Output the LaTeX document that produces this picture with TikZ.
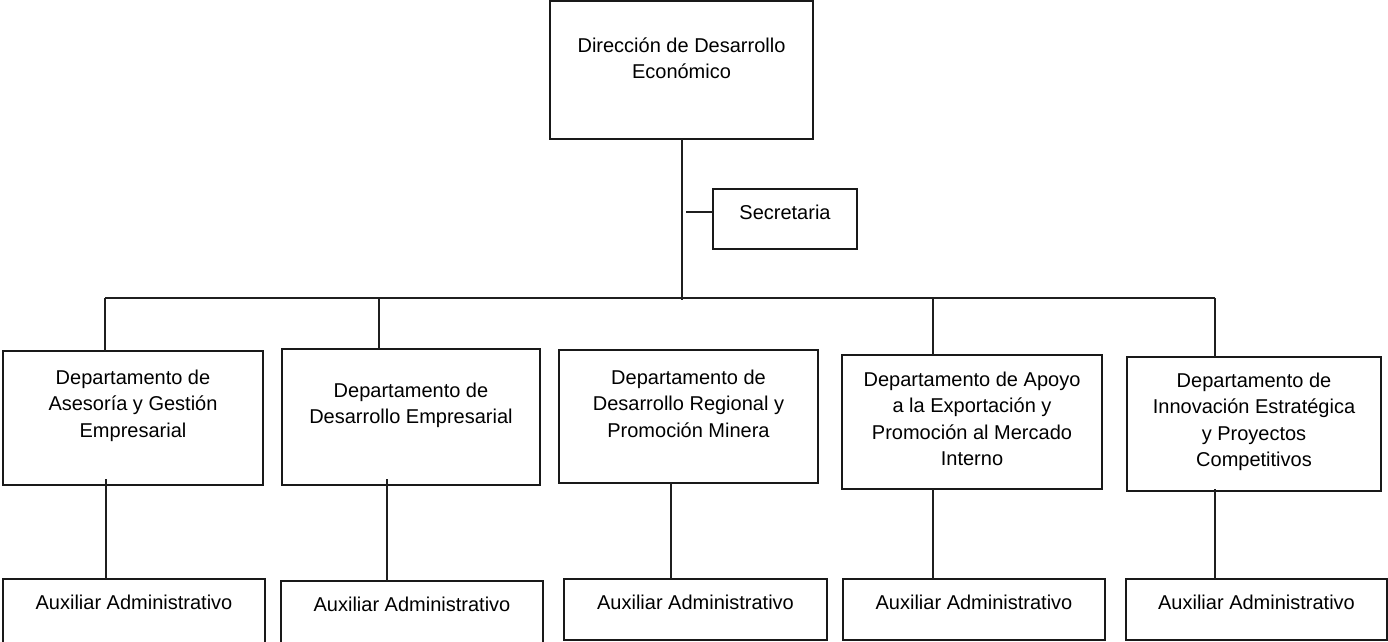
\documentclass[tikz,border=0pt]{standalone}
\usepackage{fontspec}
\setmainfont{Liberation Sans}
\begin{document}
\begin{tikzpicture}[x=1pt,y=-1pt,
  box/.style={draw=black!90, line width=1.3pt, fill=white, inner sep=0pt, outer sep=0pt, anchor=north west},
  txt/.style={anchor=north, align=center, inner sep=0pt, text=black,
              font=\fontsize{20}{26.5}\selectfont},
  link/.style={draw=black!88, line width=1.3pt}
]
\useasboundingbox (0,0) rectangle (1388,641);

% head office and its assistant
\node[box, minimum width=263pt, minimum height=138pt,
      label={[txt, yshift=-36.5pt]north:Dirección de Desarrollo\\Económico}] (top) at (550,1) {};
\node[box, minimum width=144pt, minimum height=60pt,
      label={[txt, yshift=-15.5pt]north:Secretaria}] (sec) at (713,189) {};

% departments
\node[box, minimum width=260pt, minimum height=134pt,
      label={[txt, yshift=-18.5pt]north:Departamento de\\Asesoría y Gestión\\Empresarial}] (d1) at (3,351) {};
\node[box, minimum width=258pt, minimum height=136pt,
      label={[txt, yshift=-33.5pt]north:Departamento de\\Desarrollo Empresarial}] (d2) at (282,349) {};
\node[box, minimum width=259pt, minimum height=133pt,
      label={[txt, yshift=-19.5pt]north:Departamento de\\Desarrollo Regional y\\Promoción Minera}] (d3) at (559,350) {};
\node[box, minimum width=260pt, minimum height=134pt,
      label={[txt, yshift=-16.5pt]north:Departamento de Apoyo\\a la Exportación y\\Promoción al Mercado\\Interno}] (d4) at (842,355) {};
\node[box, minimum width=254pt, minimum height=134pt,
      label={[txt, yshift=-15.5pt]north:Departamento de\\Innovación Estratégica\\y Proyectos\\Competitivos}] (d5) at (1127,357) {};

% administrative assistants
\node[box, minimum width=262pt, minimum height=66pt,
      label={[txt, yshift=-15.5pt]north:Auxiliar Administrativo}] (a1) at (3,579) {};
\node[box, minimum width=262pt, minimum height=64pt,
      label={[txt, yshift=-15.5pt]north:Auxiliar Administrativo}] (a2) at (281,581) {};
\node[box, minimum width=263pt, minimum height=61pt,
      label={[txt, yshift=-15.5pt]north:Auxiliar Administrativo}] (a3) at (564,579) {};
\node[box, minimum width=262pt, minimum height=61pt,
      label={[txt, yshift=-15.5pt]north:Auxiliar Administrativo}] (a4) at (843,579) {};
\node[box, minimum width=261pt, minimum height=61pt,
      label={[txt, yshift=-15.5pt]north:Auxiliar Administrativo}] (a5) at (1126,579) {};

% drop points on the horizontal bus
\coordinate (bus) at (682,298);
\coordinate (p1) at (105,298);
\coordinate (p2) at (379,298);
\coordinate (p4) at (933,298);
\coordinate (p5) at (1215,298);
\coordinate (bw) at (105,298);
\coordinate (be) at (1215,298);

% connectors
\draw[link] (top.south -| bus) -- ([yshift=-2pt]bus);
\draw[link] (bw) -- (be);
\draw[link] (686,212) coordinate (st) -- (st -| sec.west);
\draw[link] (p1) -- (p1 |- d1.north);
\draw[link] (p2) -- (p2 |- d2.north);
\draw[link] (p4) -- (p4 |- d4.north);
\draw[link] (p5) -- (p5 |- d5.north);

% department to assistant
\coordinate (q1) at (106,479);
\coordinate (q2) at (387,479);
\coordinate (q3) at (671,482);
\coordinate (q4) at (933,489);
\coordinate (q5) at (1215,489);
\draw[link] (q1) -- (q1 |- a1.north);
\draw[link] (q2) -- (q2 |- a2.north);
\draw[link] (q3) -- (q3 |- a3.north);
\draw[link] (q4) -- (q4 |- a4.north);
\draw[link] (q5) -- (q5 |- a5.north);
\end{tikzpicture}
\end{document}
